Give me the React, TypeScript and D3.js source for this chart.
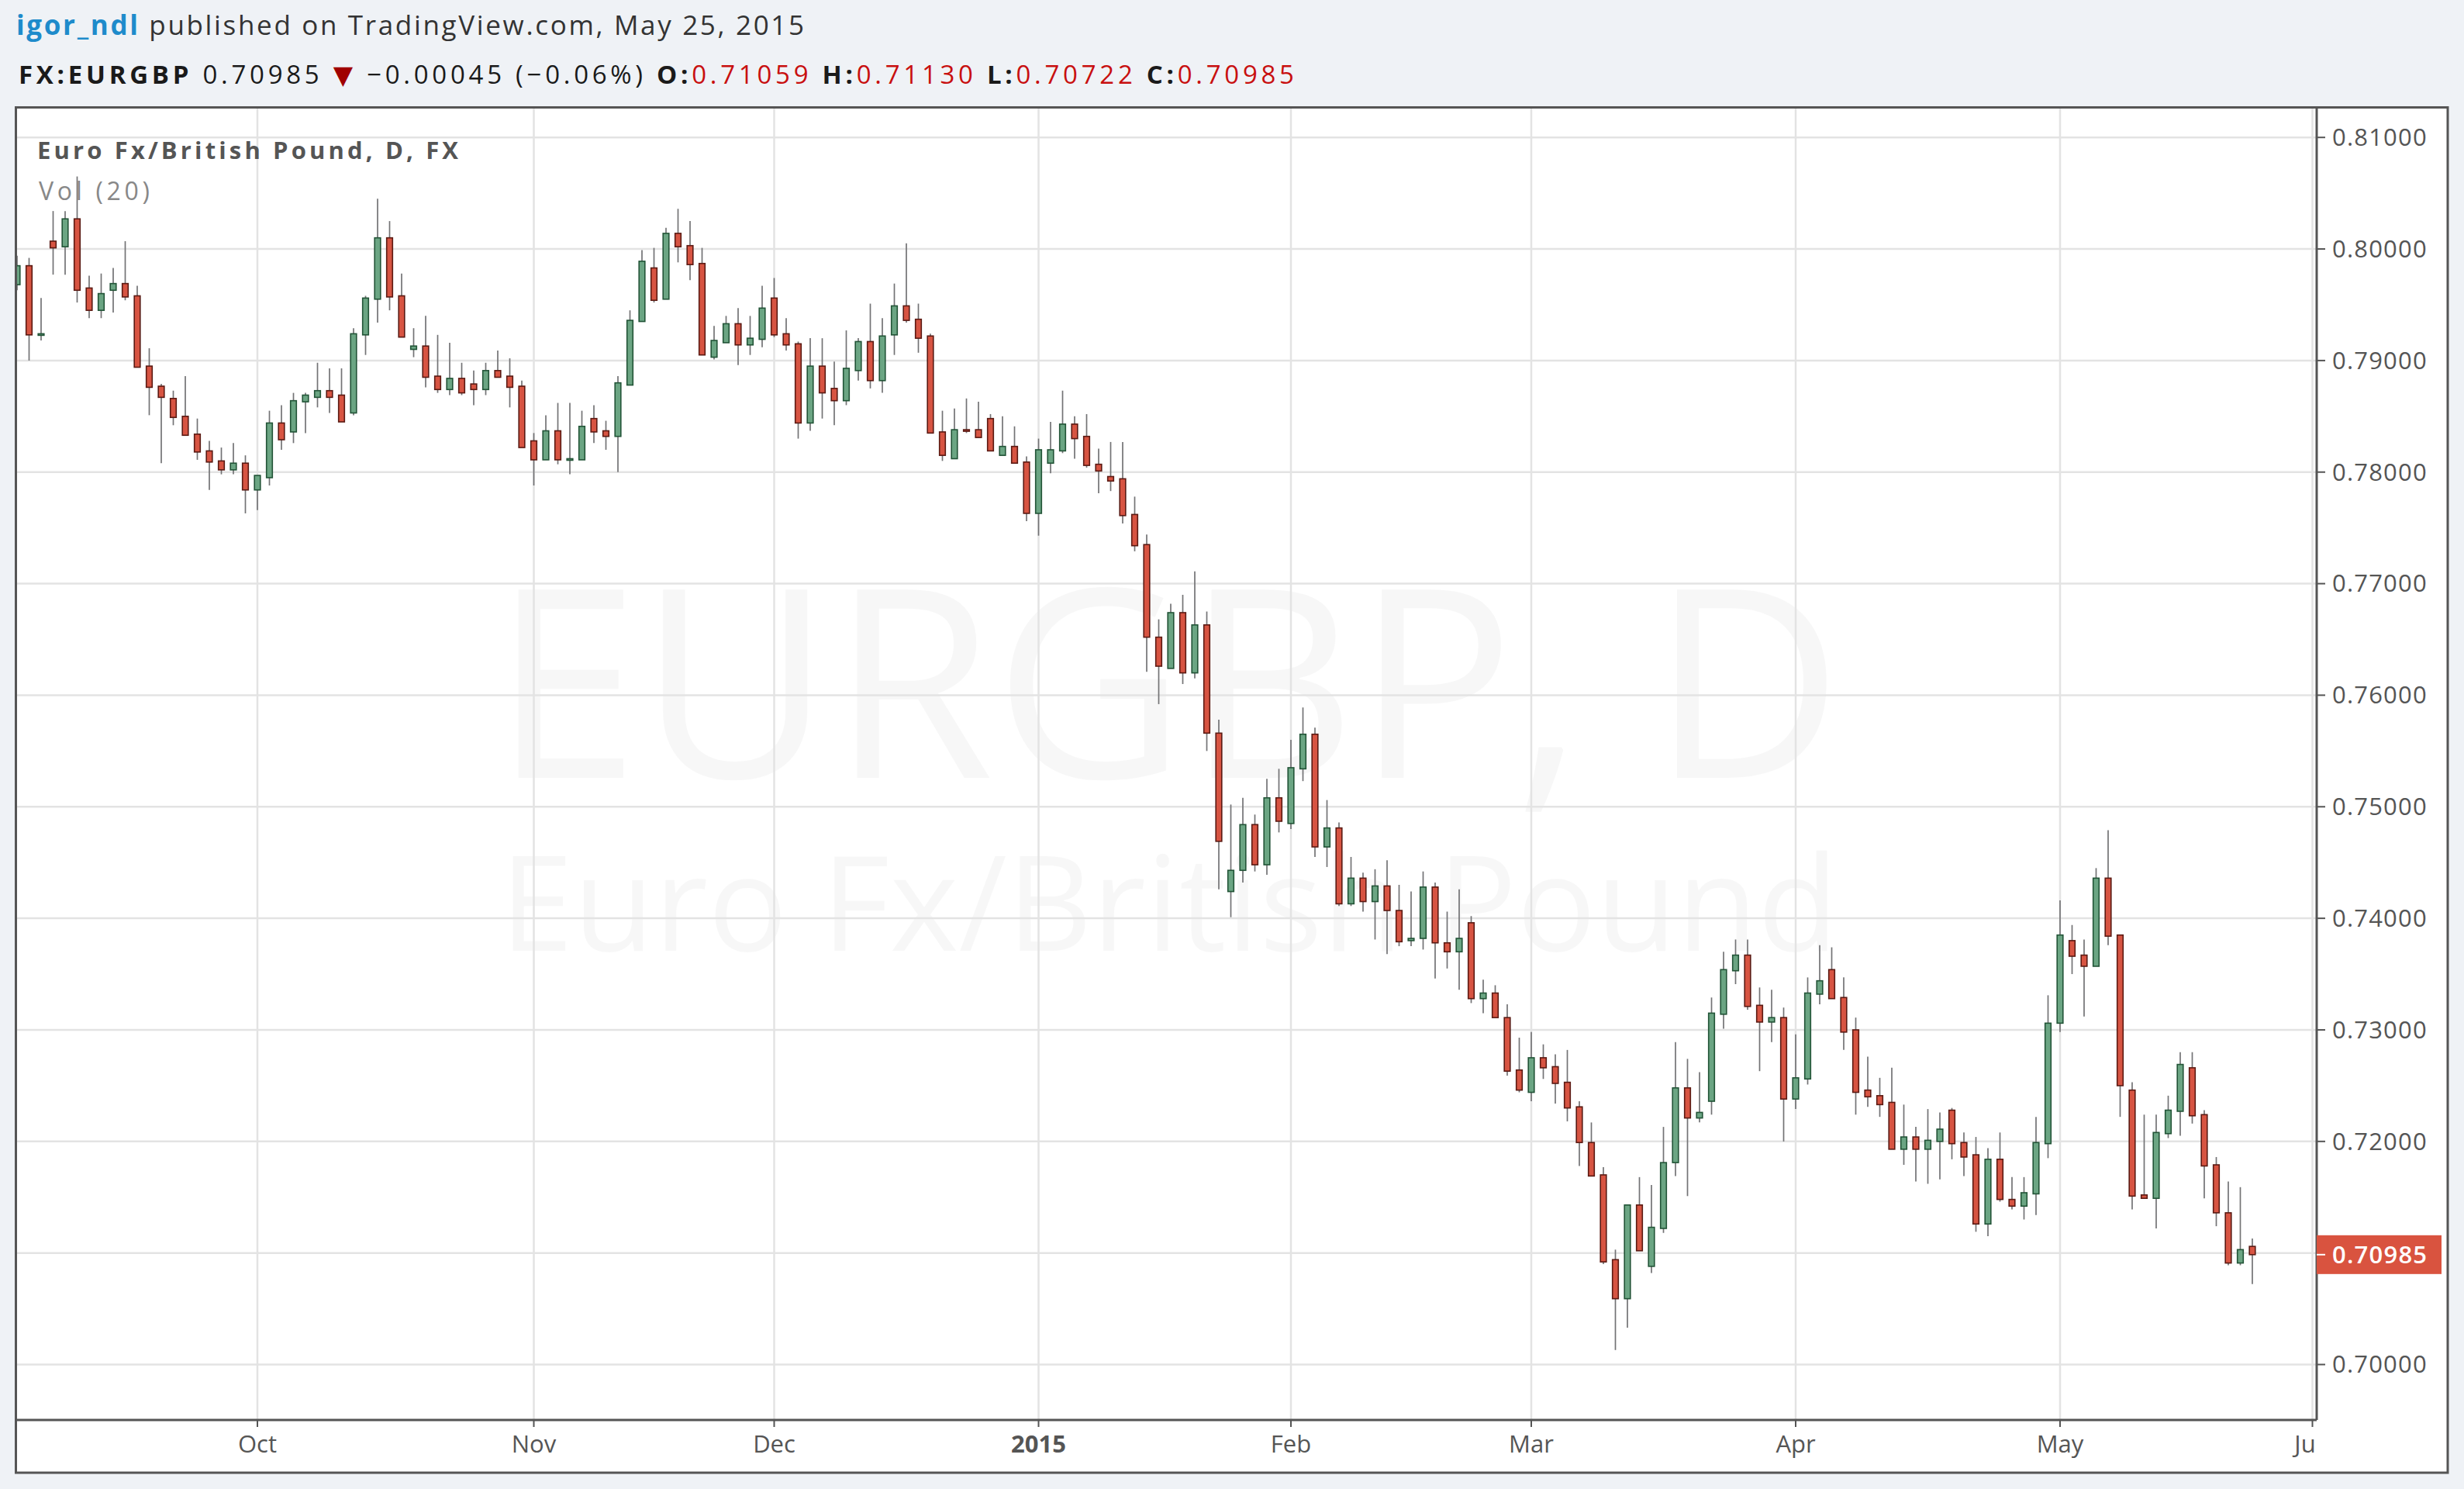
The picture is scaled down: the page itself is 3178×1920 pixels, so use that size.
import React from 'react';
import * as d3 from 'd3';

// ---- Data (EURGBP daily, Sep 3 2014 .. May 25 2015), one entry per trading bar ----
const opens = [
  0.7968, 0.7985, 0.7923, 0.8007, 0.8002, 0.8027, 0.7965, 0.7945, 0.7963, 0.7969,
  0.7958, 0.7895, 0.7877, 0.7866, 0.7850, 0.7834, 0.7819, 0.7810, 0.7802, 0.7808,
  0.7784, 0.7795, 0.7844, 0.7836, 0.7863, 0.7867, 0.7873, 0.7869, 0.7853, 0.7923,
  0.7955, 0.8010, 0.7958, 0.7910, 0.7913, 0.7886, 0.7874, 0.7884, 0.7879, 0.7874,
  0.7891, 0.7886, 0.7877, 0.7828, 0.7811, 0.7837, 0.7811, 0.7811, 0.7848, 0.7837,
  0.7832, 0.7878, 0.7935, 0.7983, 0.7955, 0.8014, 0.8003, 0.7987, 0.7903, 0.7916,
  0.7933, 0.7914, 0.7919, 0.7956, 0.7924, 0.7915, 0.7844, 0.7895, 0.7875, 0.7864,
  0.7891, 0.7917, 0.7882, 0.7923, 0.7949, 0.7937, 0.7922, 0.7836, 0.7812, 0.7838,
  0.7838, 0.7848, 0.7815, 0.7823, 0.7809, 0.7763, 0.7808, 0.7819, 0.7843, 0.7832,
  0.7807, 0.7796, 0.7794, 0.7762, 0.7735, 0.7652, 0.7624, 0.7674, 0.7620, 0.7663,
  0.7566, 0.7424, 0.7443, 0.7484, 0.7448, 0.7508, 0.7485, 0.7534, 0.7565, 0.7464,
  0.7481, 0.7413, 0.7436, 0.7415, 0.7429, 0.7407, 0.7380, 0.7382, 0.7428, 0.7378,
  0.7370, 0.7396, 0.7328, 0.7333, 0.7311, 0.7264, 0.7244, 0.7275, 0.7267, 0.7253,
  0.7231, 0.7199, 0.7170, 0.7094, 0.7059, 0.7143, 0.7088, 0.7122, 0.7181, 0.7248,
  0.7221, 0.7236, 0.7314, 0.7353, 0.7367, 0.7322, 0.7307, 0.7311, 0.7238, 0.7256,
  0.7332, 0.7354, 0.7329, 0.7300, 0.7246, 0.7241, 0.7235, 0.7193, 0.7204, 0.7193,
  0.7200, 0.7228, 0.7199, 0.7188, 0.7126, 0.7184, 0.7148, 0.7142, 0.7153, 0.7198,
  0.7306, 0.7380, 0.7367, 0.7357, 0.7436, 0.7385, 0.7246, 0.7152, 0.7149, 0.7207,
  0.7227, 0.7266, 0.7224, 0.7179, 0.7136, 0.7091, 0.71059,
];
const highs = [
  0.7994, 0.7992, 0.7956, 0.8034, 0.8034, 0.8065, 0.7976, 0.7978, 0.7983, 0.8007,
  0.7967, 0.7911, 0.7879, 0.7873, 0.7886, 0.7848, 0.7828, 0.7822, 0.7826, 0.7815,
  0.7797, 0.7855, 0.7860, 0.7871, 0.7871, 0.7898, 0.7893, 0.7893, 0.7929, 0.7958,
  0.8045, 0.8025, 0.7978, 0.7929, 0.7940, 0.7923, 0.7916, 0.7898, 0.7891, 0.7898,
  0.7909, 0.7902, 0.7882, 0.7835, 0.7851, 0.7862, 0.7862, 0.7855, 0.7860, 0.7846,
  0.7886, 0.7945, 0.7999, 0.8001, 0.8019, 0.8036, 0.8025, 0.8001, 0.7931, 0.7940,
  0.7947, 0.7940, 0.7967, 0.7974, 0.7938, 0.7917, 0.7920, 0.7920, 0.7899, 0.7927,
  0.7920, 0.7951, 0.7938, 0.7969, 0.8005, 0.7951, 0.7924, 0.7855, 0.7857, 0.7866,
  0.7863, 0.7852, 0.7850, 0.7841, 0.7814, 0.7830, 0.7845, 0.7873, 0.7850, 0.7852,
  0.7821, 0.7827, 0.7827, 0.7778, 0.7744, 0.7668, 0.7682, 0.7690, 0.7711, 0.7675,
  0.7578, 0.7502, 0.7508, 0.7493, 0.7525, 0.7534, 0.7560, 0.7589, 0.7571, 0.7506,
  0.7486, 0.7455, 0.7441, 0.7444, 0.7452, 0.7430, 0.7424, 0.7442, 0.7432, 0.7406,
  0.7426, 0.7402, 0.7345, 0.7340, 0.7323, 0.7293, 0.7298, 0.7287, 0.7278, 0.7282,
  0.7236, 0.7217, 0.7177, 0.7103, 0.7143, 0.7168, 0.7161, 0.7213, 0.7289, 0.7274,
  0.7262, 0.7329, 0.7370, 0.7381, 0.7381, 0.7338, 0.7336, 0.7320, 0.7296, 0.7347,
  0.7376, 0.7374, 0.7347, 0.7311, 0.7276, 0.7257, 0.7266, 0.7233, 0.7213, 0.7229,
  0.7226, 0.7230, 0.7208, 0.7204, 0.7194, 0.7208, 0.7168, 0.7168, 0.7222, 0.7331,
  0.7416, 0.7394, 0.7381, 0.7445, 0.7479, 0.7385, 0.7253, 0.7224, 0.7224, 0.7241,
  0.7280, 0.7280, 0.7228, 0.7186, 0.7164, 0.7159, 0.71130,
];
const lows = [
  0.7963, 0.7900, 0.7918, 0.7977, 0.7977, 0.7952, 0.7938, 0.7938, 0.7943, 0.7954,
  0.7894, 0.7851, 0.7808, 0.7842, 0.7833, 0.7811, 0.7784, 0.7798, 0.7798, 0.7763,
  0.7766, 0.7788, 0.7820, 0.7826, 0.7835, 0.7858, 0.7853, 0.7845, 0.7851, 0.7905,
  0.7934, 0.7945, 0.7921, 0.7903, 0.7876, 0.7871, 0.7869, 0.7869, 0.7860, 0.7869,
  0.7885, 0.7858, 0.7822, 0.7788, 0.7811, 0.7807, 0.7798, 0.7811, 0.7826, 0.7820,
  0.7800, 0.7878, 0.7935, 0.7952, 0.7955, 0.7988, 0.7972, 0.7905, 0.7901, 0.7916,
  0.7896, 0.7905, 0.7912, 0.7921, 0.7909, 0.7830, 0.7837, 0.7848, 0.7842, 0.7860,
  0.7882, 0.7875, 0.7871, 0.7905, 0.7934, 0.7907, 0.7835, 0.7810, 0.7812, 0.7835,
  0.7831, 0.7819, 0.7815, 0.7808, 0.7756, 0.7743, 0.7799, 0.7817, 0.7812, 0.7804,
  0.7781, 0.7783, 0.7754, 0.7729, 0.7621, 0.7592, 0.7624, 0.7610, 0.7615, 0.7550,
  0.7426, 0.7401, 0.7432, 0.7442, 0.7439, 0.7477, 0.7480, 0.7523, 0.7455, 0.7446,
  0.7411, 0.7411, 0.7406, 0.7381, 0.7368, 0.7375, 0.7375, 0.7372, 0.7346, 0.7355,
  0.7336, 0.7324, 0.7315, 0.7311, 0.7259, 0.7244, 0.7236, 0.7256, 0.7234, 0.7218,
  0.7178, 0.7169, 0.7090, 0.7013, 0.7033, 0.7102, 0.7082, 0.7118, 0.7169, 0.7151,
  0.7217, 0.7224, 0.7301, 0.7341, 0.7318, 0.7263, 0.7289, 0.7200, 0.7229, 0.7251,
  0.7323, 0.7328, 0.7282, 0.7224, 0.7231, 0.7222, 0.7193, 0.7179, 0.7164, 0.7162,
  0.7166, 0.7184, 0.7169, 0.7119, 0.7115, 0.7146, 0.7139, 0.7130, 0.7134, 0.7185,
  0.7298, 0.7350, 0.7312, 0.7357, 0.7376, 0.7222, 0.7139, 0.7149, 0.7122, 0.7203,
  0.7205, 0.7216, 0.7149, 0.7124, 0.7089, 0.7089, 0.70722,
];
const closes = [
  0.7985, 0.7923, 0.7924, 0.8001, 0.8027, 0.7963, 0.7945, 0.7960, 0.7969, 0.7957,
  0.7894, 0.7876, 0.7867, 0.7849, 0.7833, 0.7818, 0.7809, 0.7802, 0.7808, 0.7784,
  0.7797, 0.7844, 0.7829, 0.7864, 0.7869, 0.7873, 0.7867, 0.7845, 0.7924, 0.7956,
  0.8010, 0.7957, 0.7921, 0.7913, 0.7885, 0.7874, 0.7884, 0.7871, 0.7874, 0.7891,
  0.7885, 0.7876, 0.7822, 0.7811, 0.7837, 0.7811, 0.7812, 0.7841, 0.7836, 0.7832,
  0.7880, 0.7936, 0.7989, 0.7954, 0.8014, 0.8002, 0.7986, 0.7905, 0.7918, 0.7933,
  0.7914, 0.7920, 0.7947, 0.7923, 0.7914, 0.7844, 0.7895, 0.7871, 0.7864, 0.7893,
  0.7917, 0.7882, 0.7922, 0.7949, 0.7936, 0.7920, 0.7835, 0.7815, 0.7838, 0.7837,
  0.7831, 0.7819, 0.7823, 0.7808, 0.7763, 0.7820, 0.7820, 0.7843, 0.7830, 0.7806,
  0.7801, 0.7792, 0.7761, 0.7734, 0.7652, 0.7626, 0.7674, 0.7620, 0.7663, 0.7566,
  0.7469, 0.7443, 0.7484, 0.7448, 0.7508, 0.7487, 0.7535, 0.7565, 0.7464, 0.7481,
  0.7413, 0.7436, 0.7415, 0.7429, 0.7407, 0.7379, 0.7382, 0.7428, 0.7378, 0.7370,
  0.7382, 0.7328, 0.7333, 0.7311, 0.7263, 0.7246, 0.7275, 0.7266, 0.7252, 0.7230,
  0.7199, 0.7169, 0.7092, 0.7059, 0.7143, 0.7102, 0.7123, 0.7181, 0.7248, 0.7221,
  0.7226, 0.7315, 0.7354, 0.7367, 0.7321, 0.7307, 0.7311, 0.7238, 0.7257, 0.7333,
  0.7344, 0.7328, 0.7298, 0.7244, 0.7240, 0.7233, 0.7193, 0.7204, 0.7193, 0.7201,
  0.7211, 0.7198, 0.7186, 0.7126, 0.7184, 0.7148, 0.7142, 0.7154, 0.7199, 0.7306,
  0.7385, 0.7366, 0.7357, 0.7436, 0.7384, 0.7250, 0.7151, 0.7149, 0.7208, 0.7228,
  0.7269, 0.7223, 0.7178, 0.7136, 0.7091, 0.7103, 0.70985,
];

// x-axis: month labels and the bar index where each month starts
const monthLabels = ['Oct', 'Nov', 'Dec', '2015', 'Feb', 'Mar', 'Apr', 'May', 'Jun'];
const monthStartBar = [20, 43, 63, 85, 106, 126, 148, 170, 191];

// y-axis ticks
const priceTicks = [0.70, 0.71, 0.72, 0.73, 0.74, 0.75, 0.76, 0.77, 0.78, 0.79, 0.80, 0.81];
const lastPrice = 0.70985;

const W = 3178;
const H = 1920;
const FONT = "'Open Sans', 'DejaVu Sans', sans-serif";

const UP_FILL = '#6ba583';
const UP_BORDER = '#225437';
const DN_FILL = '#d75442';
const DN_BORDER = '#5b1a13';
const WICK = '#737375';

export default function App() {
  const plotL = 21, plotR = 2988, plotT = 140, plotB = 1831;
  const frameR = 3157, frameB = 1899;

  const x = d3.scaleLinear().domain([0, 186]).range([22, 22 + 186 * 15.5]);
  const y = d3.scaleLinear().domain([0.70, 0.81]).range([1759.5, 177.2]);

  const bodyW = 7.6;
  const fmt = d3.format('.5f');

  return (
    <svg width={W} height={H} style={{ position: 'absolute', left: 0, top: 0, display: 'block' }}
      fontFamily={FONT}>
      <defs>
        <clipPath id="plotClip">
          <rect x={plotL} y={plotT} width={plotR - plotL} height={plotB - plotT} />
        </clipPath>
        <clipPath id="xAxisClip">
          <rect x={plotL} y={plotB} width={plotR - plotL} height={frameB - plotB} />
        </clipPath>
      </defs>
      <rect x={0} y={0} width={W} height={H} fill="#eff2f6" />

      {/* header */}
      <text x={21} y={45} fontSize={35} fill="#333" textLength={1016} lengthAdjust="spacing">
        <tspan fill="#1e8bcb" fontWeight={700}>igor_ndl</tspan>
        <tspan> published on TradingView.com, May 25, 2015</tspan>
      </text>
      <text x={24} y={108} fontSize={33} fill="#1a1a1a" textLength={1645} lengthAdjust="spacing">
        <tspan fontWeight={700}>FX:EURGBP</tspan>
        <tspan>{'  0.70985 '}</tspan>
        <tspan fill="#a00000">▼</tspan>
        <tspan>{' −0.00045 (−0.06%) '}</tspan>
        <tspan fontWeight={700}>O:</tspan>
        <tspan fill="#c80f0f">0.71059</tspan>
        <tspan fontWeight={700}> H:</tspan>
        <tspan fill="#c80f0f">0.71130</tspan>
        <tspan fontWeight={700}> L:</tspan>
        <tspan fill="#c80f0f">0.70722</tspan>
        <tspan fontWeight={700}> C:</tspan>
        <tspan fill="#c80f0f">0.70985</tspan>
      </text>

      {/* chart frame */}
      <rect x={plotL} y={plotT - 1} width={frameR - plotL} height={frameB - plotT + 1} fill="#ffffff" />

      {/* watermark */}
      <g fill="#000" fillOpacity={0.032} textAnchor="middle">
        <text x={1506} y={1003} fontSize={340}>EURGBP, D</text>
        <text x={1508} y={1226} fontSize={170}>Euro Fx/British Pound</text>
      </g>

      {/* grid */}
      <g stroke="#e3e3e3" strokeWidth={2.5}>
        {priceTicks.map((p) => (
          <line key={'h' + p} x1={plotL} x2={plotR} y1={y(p)} y2={y(p)} />
        ))}
        {monthStartBar.map((b, k) => (
          x(b) < plotR ? <line key={'v' + k} x1={x(b)} x2={x(b)} y1={plotT} y2={plotB} /> : null
        ))}
      </g>

      {/* legend */}
      <text x={48} y={205} fontSize={31} fontWeight={700} fill="#555" textLength={543} lengthAdjust="spacing">
        Euro Fx/British Pound, D, FX
      </text>
      <text x={50} y={258} fontSize={32} fill="#888" textLength={143} lengthAdjust="spacing">Vol (20)</text>

      {/* candles */}
      <g clipPath="url(#plotClip)">
        {opens.map((o, i) => {
          const c = closes[i];
          const up = c >= o;
          const cx = x(i);
          const top = y(Math.max(o, c));
          const bh = Math.max(2, Math.abs(y(o) - y(c)));
          return (
            <g key={i}>
              <line x1={cx} x2={cx} y1={y(highs[i])} y2={y(lows[i])} stroke={WICK} strokeWidth={1.7} />
              <rect x={cx - bodyW / 2} y={top} width={bodyW} height={bh}
                fill={up ? UP_FILL : DN_FILL} stroke={up ? UP_BORDER : DN_BORDER} strokeWidth={1.6} />
            </g>
          );
        })}
      </g>

      {/* frame lines */}
      <g stroke="#555" strokeWidth={3} fill="none">
        <rect x={plotL - 0.5} y={plotT - 1.5} width={frameR - plotL + 0.5} height={frameB - plotT + 1.5} />
        <line x1={plotR} x2={plotR} y1={plotT - 1.5} y2={plotB} />
        <line x1={plotL} x2={plotR} y1={plotB} y2={plotB} />
      </g>

      {/* y axis */}
      <g fontSize={31} fill="#555">
        {priceTicks.map((p) => (
          <g key={'yt' + p}>
            <line x1={plotR} x2={plotR + 11} y1={y(p)} y2={y(p)} stroke="#555" strokeWidth={2} />
            <text x={3008} y={y(p)} dy="0.35em" letterSpacing={1.2}>{fmt(p)}</text>
          </g>
        ))}
      </g>
      {/* last price label */}
      <g>
        <rect x={plotR} y={y(lastPrice) - 25} width={161} height={50} fill="#d9533f" />
        <line x1={plotR} x2={plotR + 11} y1={y(lastPrice)} y2={y(lastPrice)} stroke="#fff" strokeWidth={2} />
        <text x={3008} y={y(lastPrice)} dy="0.35em" fontSize={31} fill="#fff" fontWeight={600} letterSpacing={1.2}>
          {fmt(lastPrice)}
        </text>
      </g>

      {/* x axis */}
      <g clipPath="url(#xAxisClip)">
        {monthStartBar.map((b, k) => (
          <g key={'xt' + k}>
            <line x1={x(b)} x2={x(b)} y1={plotB} y2={plotB + 9} stroke="#555" strokeWidth={2} />
            <text x={x(b)} y={1873} fontSize={31} textAnchor="middle" fill="#555"
              fontWeight={monthLabels[k] === '2015' ? 700 : 400}>{monthLabels[k]}</text>
          </g>
        ))}
      </g>
    </svg>
  );
}
